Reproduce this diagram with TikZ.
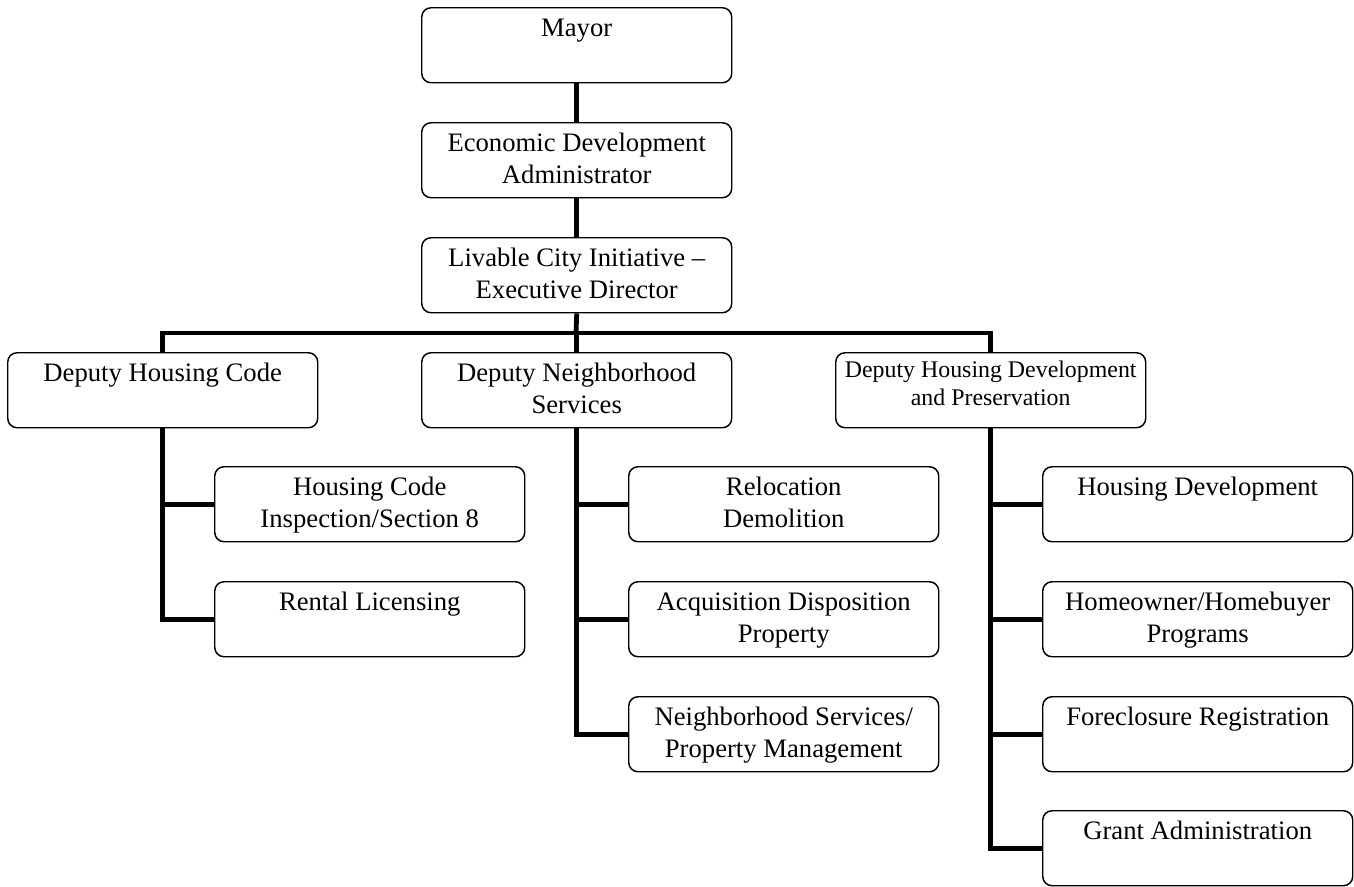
\documentclass[tikz,border=0pt]{standalone}
\usepackage{fontspec}
\setmainfont{Liberation Serif}

% cell of fixed size with its text set at the top
\newcommand\orgcell[1]{\parbox[c][56.25pt][t]{232.5pt}{\centering\rule{0pt}{21.75pt}#1}}
\newcommand\orgcellsmall[1]{\parbox[c][56.25pt][t]{232.5pt}{\centering\rule{0pt}{18.75pt}#1}}

\tikzset{
  orgbox/.style={draw, fill=white, rounded corners=7pt, line width=1.1pt,
    inner sep=0pt, anchor=north west, font=\fontsize{20}{23.8}\selectfont},
  orgboxsmall/.style={orgbox, font=\fontsize{17.9}{21}\selectfont},
  link/.style={line width=3.6pt, line join=miter}
}

\begin{document}
\begin{tikzpicture}[x=0.75pt, y=-0.75pt]
\useasboundingbox (0,0) rectangle (1354,886);

% top of the chain
\node[orgbox] (mayor) at (421,7)   {\orgcell{Mayor}};
\node[orgbox] (eda)   at (421,122) {\orgcell{Economic Development\\Administrator}};
\node[orgbox] (lci)   at (421,237) {\orgcell{Livable City Initiative --\\Executive Director}};

% deputies
\node[orgbox]      (dhc)  at (7,352)   {\orgcell{Deputy Housing Code}};
\node[orgbox]      (dns)  at (421,352) {\orgcell{Deputy Neighborhood\\Services}};
\node[orgboxsmall] (dhdp) at (835,352) {\orgcellsmall{Deputy Housing Development\\and Preservation}};

% housing code units
\node[orgbox] (hci)  at (214,466) {\orgcell{Housing Code\\Inspection/Section 8}};
\node[orgbox] (rent) at (214,581) {\orgcell{Rental Licensing}};

% neighborhood services units
\node[orgbox] (reloc) at (628,466) {\orgcell{Relocation\\Demolition}};
\node[orgbox] (acq)   at (628,581) {\orgcell{Acquisition Disposition\\Property}};
\node[orgbox] (nspm)  at (628,696) {\orgcell{Neighborhood Services/\\Property Management}};

% housing development units
\node[orgbox] (hdev)  at (1042,466) {\orgcell{Housing Development}};
\node[orgbox] (home)  at (1042,581) {\orgcell{Homeowner/Homebuyer\\Programs}};
\node[orgbox] (fore)  at (1042,696) {\orgcell{Foreclosure Registration}};
\node[orgbox] (grant) at (1042,810) {\orgcell{Grant Administration}};

\coordinate (bus) at (576,333);

% chain of command
\draw[link] (mayor.south) -- (eda.north);
\draw[link] (eda.south) -- (lci.north);
\draw[link] (lci.south) -- (bus);
\draw[link] (dhc.north) -- (dhc.north |- bus) -- (dhdp.north |- bus) -- (dhdp.north);
\draw[link] (dns.north) -- (dns.north |- bus);

% branches
\draw[link] (dhc.south) |- (rent.west);
\draw[link] (dhc.south |- hci.west) -- (hci.west);

\draw[link] (dns.south) |- (nspm.west);
\draw[link] (dns.south |- reloc.west) -- (reloc.west);
\draw[link] (dns.south |- acq.west) -- (acq.west);

\draw[link] (dhdp.south) |- (grant.west);
\draw[link] (dhdp.south |- hdev.west) -- (hdev.west);
\draw[link] (dhdp.south |- home.west) -- (home.west);
\draw[link] (dhdp.south |- fore.west) -- (fore.west);
\end{tikzpicture}
\end{document}
